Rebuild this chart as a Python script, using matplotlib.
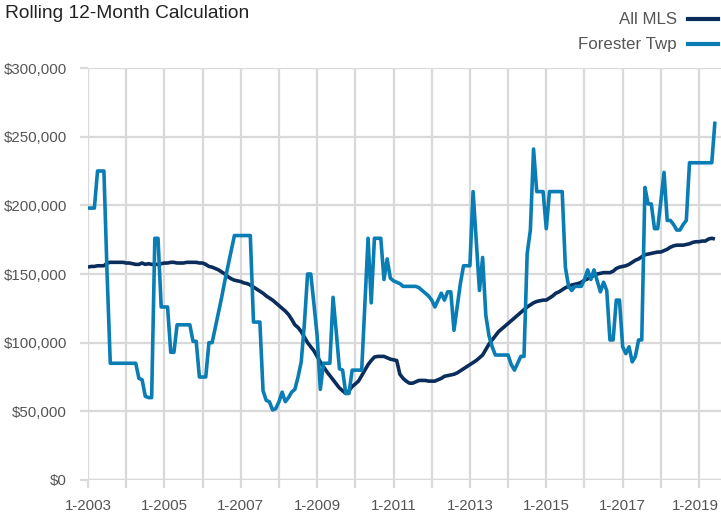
import matplotlib
matplotlib.use("Agg")
import matplotlib.pyplot as plt
from matplotlib.ticker import FuncFormatter, MultipleLocator
from matplotlib.transforms import ScaledTranslation
import numpy as np

# ---- data (values in $1000s, monthly from Jan 2003) ----
start_year = 2003
all_mls = [
    155, 155.5, 155.5, 156, 156, 156, 158, 158.5, 158.5, 158.5, 158.5, 158.5,
    158, 158, 157.5, 157, 157, 158, 157, 157.5, 157, 157, 157, 157.5,
    158, 158, 158.5, 158.5, 158, 158, 158, 158.5, 158.5, 158.5, 158.5, 158,
    158, 157, 155.5, 155, 154, 153, 151.5, 150, 148, 146.5, 145.5, 145,
    144.5, 143.5, 143, 142, 140.5, 139, 137.5, 136, 134, 132.5, 131, 129,
    127, 125, 123, 120.5, 117, 113, 111, 108, 104, 100, 97, 94,
    90, 86, 82.5, 79, 76, 73, 70, 67, 65, 63, 65, 68,
    70, 72, 76, 80, 84, 87, 89.5, 90, 90, 90, 89, 88,
    87.5, 87, 77, 74, 72, 70.5, 70.5, 71.5, 72.5, 72.5, 72.5, 72,
    72, 72, 73, 74, 75.5, 76, 76.5, 77, 78, 79.5, 81, 82.5,
    84, 85.5, 87, 89, 91, 95, 99, 102, 105, 108, 110, 112,
    114, 116, 118, 120, 122, 124, 126, 127.5, 129, 130, 130.5, 131,
    131, 132.5, 134, 136, 137, 138.5, 140, 141, 142, 142.5, 143, 144,
    145.5, 146.5, 147.5, 149, 150, 150.5, 151, 151, 151, 152, 154, 155,
    155.5, 156, 157, 158.5, 160, 161, 162.5, 164, 164.5, 165, 165.5, 166,
    166, 167, 168, 169.5, 170.5, 171, 171, 171, 171.5, 172, 173, 173.5,
    173.5, 174, 174, 175.5, 176, 175.5,
]
forester_twp = [
    198, 198, 198, 225, 225, 225, 150, 85, 85, 85, 85, 85,
    85, 85, 85, 85, 74, 73, 61, 60, 60, 176, 176, 126,
    126, 126, 93, 93, 113, 113, 113, 113, 113, 101, 101, 75,
    75, 75, 100, 100, 111, 122, 133, 145, 156, 167, 178, 178,
    178, 178, 178, 178, 115, 115, 115, 65, 58, 57, 51, 52,
    57, 64, 57, 60, 64, 66, 75, 86, 114, 150, 150, 128,
    105, 66, 85, 85, 85, 133, 108, 81, 80, 63, 63, 80,
    80, 80, 80, 128, 176, 129, 176, 176, 176, 146, 161, 147,
    145, 144, 143, 141, 141, 141, 141, 141, 140, 138, 136, 134,
    131, 126, 131, 136, 131, 137, 137, 109, 126, 143, 156, 156,
    156, 210, 174, 138, 162, 120, 105, 97, 91, 91, 91, 91,
    91, 84, 80, 85, 90, 90, 165, 182, 241, 210, 210, 210,
    183, 210, 210, 210, 210, 210, 155, 141, 138, 141, 141, 141,
    146, 153, 146, 153, 145, 137, 144, 138, 102, 102, 131, 131,
    97, 92, 97, 86, 90, 102, 102, 213, 201, 201, 183, 183,
    203, 224, 189, 189, 186, 182, 182, 186, 189, 231, 231, 231,
    231, 231, 231, 231, 231, 261,
]
series_names = ["All MLS", "Forester Twp"]
tick_years = list(range(2003, 2020, 2))
tick_labels = [f"1-{y}" for y in tick_years]
title = "Rolling 12-Month Calculation"

# ---- style ----
FONT = ["Liberation Sans", "DejaVu Sans"]
plt.rcParams["font.family"] = FONT
c_mls = "#0b2d5c"
c_for = "#0a7db4"
c_grid = "#d9d9d9"
c_text = "#555555"

fig = plt.figure(figsize=(7.21, 5.15), dpi=100)
ax = fig.add_axes([88 / 721, 1 - 480 / 515, 1 - 88 / 721, (480 - 68) / 515])

m_mls = np.arange(len(all_mls))
m_for = np.arange(len(forester_twp))
ax.plot(m_mls, np.array(all_mls) * 1000, color=c_mls, lw=2.6, zorder=3,
        solid_joinstyle="round", solid_capstyle="butt")
ax.plot(m_for, np.array(forester_twp) * 1000, color=c_for, lw=2.6, zorder=4,
        solid_joinstyle="round", solid_capstyle="butt")

ax.set_xlim(0, 198.9)
ax.set_ylim(0, 300000)

ax.yaxis.set_major_locator(MultipleLocator(50000))
ax.yaxis.set_major_formatter(FuncFormatter(lambda v, p: f"${int(v):,}"))

ax.set_xticks([(y - start_year) * 12 for y in tick_years])
ax.set_xticklabels(tick_labels)
ax.set_xticks([(y - start_year) * 12 for y in range(2004, 2020, 2)], minor=True)

ax.grid(True, which="both", axis="x", color=c_grid, lw=1.6, zorder=0)
ax.grid(True, which="major", axis="y", color=c_grid, lw=1.6, zorder=0)
ax.axhline(0, color=c_grid, lw=2.4, zorder=1)
for s in ax.spines.values():
    s.set_visible(False)
ax.tick_params(axis="both", which="both", colors=c_grid, length=6, width=1.6,
               labelcolor=c_text, labelsize=10.8)
ax.tick_params(axis="y", pad=9)
ax.tick_params(axis="x", pad=8)

# keep the last x label inside the figure
last = ax.get_xticklabels()[-1]
last.set_transform(last.get_transform() + ScaledTranslation(-4 / 100, 0, fig.dpi_scale_trans))

fig.text(5 / 721, 1 - 13 / 515, title, fontsize=13.8, color="#222222",
         ha="left", va="center")

# legend (manual, right aligned)
for i, (name, col) in enumerate(zip(series_names, [c_mls, c_for])):
    yy = 1 - (19 + 25 * i) / 515
    fig.text(677 / 721, yy, name, fontsize=12.2, color=c_text,
             ha="right", va="center")
    fig.add_artist(plt.Line2D([688 / 721, 718 / 721], [yy, yy], color=col,
                              lw=3, transform=fig.transFigure))

fig.savefig("out.png", dpi=100)
